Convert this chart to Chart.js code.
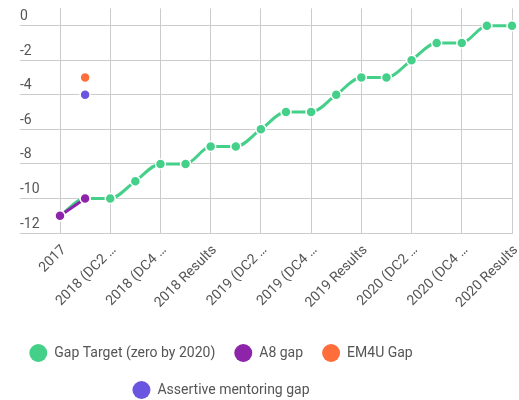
<!DOCTYPE html>
<html>
<head>
<meta charset="utf-8">
<script src="https://cdn.jsdelivr.net/npm/chart.js@4/dist/chart.umd.min.js"></script>
<style>
  html, body { margin: 0; padding: 0; background: #fff; }
</style>
</head>
<body>
<canvas id="gapChart" width="519" height="400"></canvas>
<script>
// categories (only every other one is labelled on the axis)
const categories = [
  '2017', '2018 (DC1 …', '2018 (DC2 …', '2018 (DC3 …', '2018 (DC4 …', '2018 (DC5 …', '2018 Results',
  '2019 (DC1 …', '2019 (DC2 …', '2019 (DC3 …', '2019 (DC4 …', '2019 (DC5 …', '2019 Results',
  '2020 (DC1 …', '2020 (DC2 …', '2020 (DC3 …', '2020 (DC4 …', '2020 (DC5 …', '2020 Results'
];

// series values
const gapTarget = [-11, -10, -10, -9, -8, -8, -7, -7, -6, -5, -5, -4, -3, -3, -2, -1, -1, 0, 0];
const a8Gap = [-11, -10];
const em4uGap = [null, -3];
const assertiveGap = [null, -4];

// y tick labels
const yTicks = [0, -2, -4, -6, -8, -10, -12];

const gridColor = '#cccccc';

Chart.defaults.font.family = 'Roboto';
Chart.defaults.color = '#555';

// move the legend left and down a bit, like the original
const legendShift = {
  id: 'legendShift',
  afterLayout(chart) {
    const lg = chart.legend;
    lg.left -= 45;
    lg.right -= 45;
    lg.top += 9;
    lg.bottom += 9;
  }
};

const ctx = document.getElementById('gapChart').getContext('2d');

const gapChart = new Chart(ctx, {
  type: 'line',
  data: {
    labels: categories,
    datasets: [
      {
        label: 'Gap Target (zero by 2020)',
        data: gapTarget,
        borderColor: '#45d08a',
        backgroundColor: '#45d08a',
        borderWidth: 3,
        pointRadius: 5,
        pointBorderColor: '#fff',
        pointBorderWidth: 1.5,
        cubicInterpolationMode: 'monotone',
        clip: false,
        order: 1
      },
      {
        label: 'A8 gap',
        data: a8Gap,
        borderColor: '#8e24aa',
        backgroundColor: '#8e24aa',
        borderWidth: 3,
        pointRadius: 5,
        pointBorderColor: '#fff',
        pointBorderWidth: 1.5,
        clip: false
      },
      {
        label: 'EM4U Gap',
        data: em4uGap,
        borderColor: '#ff6d3a',
        backgroundColor: '#ff6d3a',
        borderWidth: 3,
        pointRadius: 5,
        pointBorderColor: '#fff',
        pointBorderWidth: 1.5,
        clip: false
      },
      {
        label: 'Assertive mentoring gap',
        data: assertiveGap,
        borderColor: '#6a55e0',
        backgroundColor: '#6a55e0',
        borderWidth: 3,
        pointRadius: 5,
        pointBorderColor: '#fff',
        pointBorderWidth: 1.5,
        clip: false
      }
    ]
  },
  options: {
    responsive: false,
    animation: false,
    layout: { padding: { left: 20, right: 7, top: 5, bottom: 0 } },
    scales: {
      x: {
        offset: false,
        afterFit: (scale) => {
          scale.paddingRight = 0;
          scale.height = 83;
        },
        grid: { color: gridColor, drawTicks: false },
        border: { color: gridColor },
        ticks: {
          autoSkip: false,
          maxRotation: 45,
          minRotation: 45,
          padding: 9,
          labelOffset: 4,
          color: '#555',
          font: { size: 14 },
          callback: (val, i) => (i % 2 === 0 ? categories[i] : null)
        }
      },
      y: {
        min: -12,
        max: 1,
        bounds: 'data',
        afterFit: (scale) => { scale.width = 40; },
        grid: { color: gridColor, tickLength: 40 },
        border: { color: gridColor },
        ticks: {
          stepSize: 2,
          includeBounds: false,
          crossAlign: 'far',
          labelOffset: -9,
          padding: 0,
          color: '#555',
          font: { size: 14 },
          callback: (v) => (yTicks.includes(v) ? v : null)
        }
      }
    },
    plugins: {
      tooltip: { enabled: false },
      legend: {
        position: 'bottom',
        labels: {
          boxWidth: 18,
          boxHeight: 18,
          useBorderRadius: true,
          borderRadius: 9,
          padding: 19,
          color: '#555',
          font: { size: 14 },
          sort: (a, b) => a.datasetIndex - b.datasetIndex,
          generateLabels: (chart) => Chart.defaults.plugins.legend.labels.generateLabels(chart)
            .map(item => Object.assign(item, { lineWidth: 0, lineDash: [] }))
        }
      }
    }
  },
  plugins: [legendShift]
});
</script>
</body>
</html>
